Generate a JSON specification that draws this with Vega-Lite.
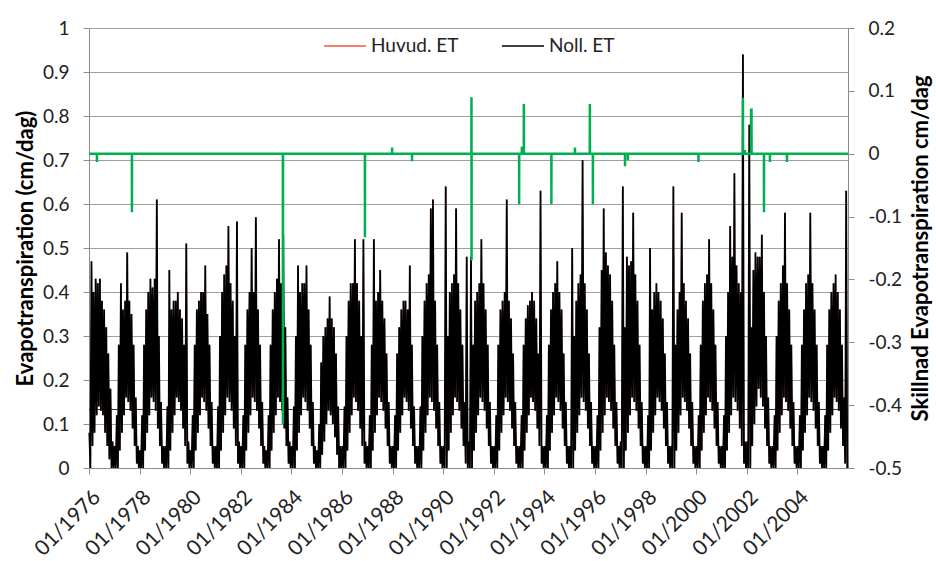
{
"$schema": "https://vega.github.io/schema/vega-lite/v6.json",
"width": 759, "height": 440,
"autosize": {"type": "none"},
"padding": {"left": 89, "top": 28, "right": 88, "bottom": 93},
"background": "white",
"config": {"font": "Lato", "view": {"stroke": null},
  "axis": {"labelFont": "Lato", "labelFontSize": 19, "labelColor": "#222222", "titleFont": "Lato", "titleFontSize": 22, "titleFontWeight": "bold", "titleColor": "#000000", "domainColor": "#8c8c8c", "tickColor": "#8c8c8c", "tickSize": 6, "gridColor": "#a0a0a0", "gridWidth": 1}},
"datasets": {
"ref": [{"v": 0.133}],
"sk": [
{"d":"1976-01-01","s":0},{"d":"1976-04-24","s":0},{"d":"1976-04-25","s":-0.013},{"d":"1976-04-26","s":0},
{"d":"1977-09-11","s":0},{"d":"1977-09-12","s":-0.093},{"d":"1977-09-13","s":0},
{"d":"1983-08-31","s":0},{"d":"1983-09-01","s":-0.43},{"d":"1983-09-02","s":0},
{"d":"1986-11-27","s":0},{"d":"1986-11-28","s":-0.133},{"d":"1986-11-29","s":0},
{"d":"1987-12-24","s":0},{"d":"1987-12-25","s":0.01},{"d":"1987-12-26","s":0},
{"d":"1988-10-07","s":0},{"d":"1988-10-08","s":-0.012},{"d":"1988-10-09","s":0},
{"d":"1991-02-12","s":0},{"d":"1991-02-13","s":0.09},{"d":"1991-02-14","s":-0.17},{"d":"1991-02-15","s":0},
{"d":"1992-12-31","s":0},{"d":"1993-01-01","s":-0.08},{"d":"1993-01-02","s":0},
{"d":"1993-02-08","s":0},{"d":"1993-02-09","s":0.009},{"d":"1993-02-25","s":0.009},{"d":"1993-02-26","s":0},
{"d":"1993-03-09","s":0},{"d":"1993-03-10","s":0.079},{"d":"1993-03-11","s":0},
{"d":"1994-04-11","s":0},{"d":"1994-04-12","s":-0.08},{"d":"1994-04-13","s":0},
{"d":"1995-03-17","s":0},{"d":"1995-03-18","s":0.01},{"d":"1995-03-19","s":0},
{"d":"1995-10-18","s":0},{"d":"1995-10-19","s":0.079},{"d":"1995-10-20","s":0},
{"d":"1995-12-01","s":0},{"d":"1995-12-02","s":-0.08},{"d":"1995-12-03","s":0},
{"d":"1997-03-09","s":0},{"d":"1997-03-10","s":-0.02},{"d":"1997-03-11","s":0},
{"d":"1997-04-19","s":0},{"d":"1997-04-20","s":-0.01},{"d":"1997-04-21","s":0},
{"d":"2000-02-02","s":0},{"d":"2000-02-03","s":-0.013},{"d":"2000-02-04","s":0},
{"d":"2001-11-05","s":0},{"d":"2001-11-06","s":0.089},{"d":"2001-11-07","s":0},
{"d":"2001-12-04","s":0},{"d":"2001-12-05","s":0.006},{"d":"2001-12-06","s":0},
{"d":"2002-03-03","s":0},{"d":"2002-03-04","s":0.07},{"d":"2002-03-10","s":0.07},{"d":"2002-03-11","s":0},
{"d":"2002-09-05","s":0},{"d":"2002-09-06","s":-0.093},{"d":"2002-09-07","s":0},
{"d":"2002-11-30","s":0},{"d":"2002-12-01","s":-0.013},{"d":"2002-12-02","s":0},
{"d":"2003-08-03","s":0},{"d":"2003-08-04","s":-0.013},{"d":"2003-08-05","s":0},
{"d":"2005-12-31","s":0}
],
"et": [
{"d":"1976-01-06","n":0.08},{"d":"1976-01-21","n":0},{"d":"1976-02-06","n":0.47},{"d":"1976-02-21","n":0.05},{"d":"1976-03-06","n":0.40},{"d":"1976-03-21","n":0.08},{"d":"1976-04-06","n":0.43},{"d":"1976-04-21","n":0.12},{"d":"1976-05-06","n":0.42},{"d":"1976-05-21","n":0.14},{"d":"1976-06-06","n":0.43},{"d":"1976-06-21","n":0.13},{"d":"1976-07-06","n":0.38},{"d":"1976-07-21","n":0.12},{"d":"1976-08-06","n":0.36},{"d":"1976-08-21","n":0.08},{"d":"1976-09-06","n":0.32},{"d":"1976-09-21","n":0.05},{"d":"1976-10-06","n":0.26},{"d":"1976-10-21","n":0.02},{"d":"1976-11-06","n":0.18},{"d":"1976-11-21","n":0},{"d":"1976-12-06","n":0.06},{"d":"1976-12-21","n":0},
{"d":"1977-01-06","n":0.05},{"d":"1977-01-21","n":0},{"d":"1977-02-06","n":0.12},{"d":"1977-02-21","n":0},{"d":"1977-03-06","n":0.28},{"d":"1977-03-21","n":0.04},{"d":"1977-04-06","n":0.42},{"d":"1977-04-21","n":0.08},{"d":"1977-05-06","n":0.36},{"d":"1977-05-21","n":0.12},{"d":"1977-06-06","n":0.38},{"d":"1977-06-21","n":0.16},{"d":"1977-07-06","n":0.49},{"d":"1977-07-21","n":0.15},{"d":"1977-08-06","n":0.38},{"d":"1977-08-21","n":0.13},{"d":"1977-09-06","n":0.35},{"d":"1977-09-21","n":0.09},{"d":"1977-10-06","n":0.28},{"d":"1977-10-21","n":0.05},{"d":"1977-11-06","n":0.16},{"d":"1977-11-21","n":0.01},{"d":"1977-12-06","n":0.05},{"d":"1977-12-21","n":0},
{"d":"1978-01-06","n":0.04},{"d":"1978-01-21","n":0},{"d":"1978-02-06","n":0.12},{"d":"1978-02-21","n":0},{"d":"1978-03-06","n":0.28},{"d":"1978-03-21","n":0.04},{"d":"1978-04-06","n":0.36},{"d":"1978-04-21","n":0.08},{"d":"1978-05-06","n":0.40},{"d":"1978-05-21","n":0.12},{"d":"1978-06-06","n":0.43},{"d":"1978-06-21","n":0.16},{"d":"1978-07-06","n":0.41},{"d":"1978-07-21","n":0.15},{"d":"1978-08-06","n":0.43},{"d":"1978-08-21","n":0.13},{"d":"1978-09-06","n":0.61},{"d":"1978-09-21","n":0.09},{"d":"1978-10-06","n":0.30},{"d":"1978-10-21","n":0.05},{"d":"1978-11-06","n":0.15},{"d":"1978-11-21","n":0.01},{"d":"1978-12-06","n":0.05},{"d":"1978-12-21","n":0},
{"d":"1979-01-06","n":0.05},{"d":"1979-01-21","n":0},{"d":"1979-02-06","n":0.14},{"d":"1979-02-21","n":0},{"d":"1979-03-06","n":0.45},{"d":"1979-03-21","n":0.04},{"d":"1979-04-06","n":0.36},{"d":"1979-04-21","n":0.08},{"d":"1979-05-06","n":0.38},{"d":"1979-05-21","n":0.12},{"d":"1979-06-06","n":0.38},{"d":"1979-06-21","n":0.16},{"d":"1979-07-06","n":0.40},{"d":"1979-07-21","n":0.15},{"d":"1979-08-06","n":0.36},{"d":"1979-08-21","n":0.13},{"d":"1979-09-06","n":0.34},{"d":"1979-09-21","n":0.09},{"d":"1979-10-06","n":0.28},{"d":"1979-10-21","n":0.05},{"d":"1979-11-06","n":0.51},{"d":"1979-11-21","n":0.01},{"d":"1979-12-06","n":0.06},{"d":"1979-12-21","n":0},
{"d":"1980-01-06","n":0.04},{"d":"1980-01-21","n":0},{"d":"1980-02-06","n":0.12},{"d":"1980-02-21","n":0},{"d":"1980-03-06","n":0.28},{"d":"1980-03-21","n":0.04},{"d":"1980-04-06","n":0.36},{"d":"1980-04-21","n":0.08},{"d":"1980-05-06","n":0.38},{"d":"1980-05-21","n":0.12},{"d":"1980-06-06","n":0.40},{"d":"1980-06-21","n":0.16},{"d":"1980-07-06","n":0.40},{"d":"1980-07-21","n":0.15},{"d":"1980-08-06","n":0.46},{"d":"1980-08-21","n":0.13},{"d":"1980-09-06","n":0.35},{"d":"1980-09-21","n":0.09},{"d":"1980-10-06","n":0.28},{"d":"1980-10-21","n":0.05},{"d":"1980-11-06","n":0.15},{"d":"1980-11-21","n":0.01},{"d":"1980-12-06","n":0.05},{"d":"1980-12-21","n":0},
{"d":"1981-01-06","n":0.05},{"d":"1981-01-21","n":0},{"d":"1981-02-06","n":0.14},{"d":"1981-02-21","n":0},{"d":"1981-03-06","n":0.30},{"d":"1981-03-21","n":0.04},{"d":"1981-04-06","n":0.40},{"d":"1981-04-21","n":0.08},{"d":"1981-05-06","n":0.44},{"d":"1981-05-21","n":0.12},{"d":"1981-06-06","n":0.46},{"d":"1981-06-21","n":0.16},{"d":"1981-07-06","n":0.55},{"d":"1981-07-21","n":0.15},{"d":"1981-08-06","n":0.42},{"d":"1981-08-21","n":0.13},{"d":"1981-09-06","n":0.38},{"d":"1981-09-21","n":0.09},{"d":"1981-10-06","n":0.30},{"d":"1981-10-21","n":0.05},{"d":"1981-11-06","n":0.56},{"d":"1981-11-21","n":0.01},{"d":"1981-12-06","n":0.06},{"d":"1981-12-21","n":0},
{"d":"1982-01-06","n":0.05},{"d":"1982-01-21","n":0},{"d":"1982-02-06","n":0.12},{"d":"1982-02-21","n":0},{"d":"1982-03-06","n":0.28},{"d":"1982-03-21","n":0.04},{"d":"1982-04-06","n":0.36},{"d":"1982-04-21","n":0.08},{"d":"1982-05-06","n":0.40},{"d":"1982-05-21","n":0.12},{"d":"1982-06-06","n":0.50},{"d":"1982-06-21","n":0.16},{"d":"1982-07-06","n":0.40},{"d":"1982-07-21","n":0.15},{"d":"1982-08-06","n":0.57},{"d":"1982-08-21","n":0.13},{"d":"1982-09-06","n":0.36},{"d":"1982-09-21","n":0.09},{"d":"1982-10-06","n":0.28},{"d":"1982-10-21","n":0.05},{"d":"1982-11-06","n":0.15},{"d":"1982-11-21","n":0.01},{"d":"1982-12-06","n":0.05},{"d":"1982-12-21","n":0},
{"d":"1983-01-06","n":0.04},{"d":"1983-01-21","n":0},{"d":"1983-02-06","n":0.12},{"d":"1983-02-21","n":0},{"d":"1983-03-06","n":0.28},{"d":"1983-03-21","n":0.04},{"d":"1983-04-06","n":0.36},{"d":"1983-04-21","n":0.08},{"d":"1983-05-06","n":0.40},{"d":"1983-05-21","n":0.12},{"d":"1983-06-06","n":0.43},{"d":"1983-06-21","n":0.16},{"d":"1983-07-06","n":0.52},{"d":"1983-07-21","n":0.15},{"d":"1983-08-06","n":0.42},{"d":"1983-08-21","n":0.13},{"d":"1983-09-06","n":0.53},{"d":"1983-09-21","n":0.09},{"d":"1983-10-06","n":0.32},{"d":"1983-10-21","n":0.05},{"d":"1983-11-06","n":0.16},{"d":"1983-11-21","n":0.01},{"d":"1983-12-06","n":0.06},{"d":"1983-12-21","n":0},
{"d":"1984-01-06","n":0.05},{"d":"1984-01-21","n":0},{"d":"1984-02-06","n":0.14},{"d":"1984-02-21","n":0},{"d":"1984-03-06","n":0.30},{"d":"1984-03-21","n":0.04},{"d":"1984-04-06","n":0.46},{"d":"1984-04-21","n":0.08},{"d":"1984-05-06","n":0.40},{"d":"1984-05-21","n":0.12},{"d":"1984-06-06","n":0.42},{"d":"1984-06-21","n":0.16},{"d":"1984-07-06","n":0.42},{"d":"1984-07-21","n":0.15},{"d":"1984-08-06","n":0.46},{"d":"1984-08-21","n":0.13},{"d":"1984-09-06","n":0.36},{"d":"1984-09-21","n":0.09},{"d":"1984-10-06","n":0.28},{"d":"1984-10-21","n":0.05},{"d":"1984-11-06","n":0.15},{"d":"1984-11-21","n":0.01},{"d":"1984-12-06","n":0.05},{"d":"1984-12-21","n":0},
{"d":"1985-01-06","n":0.04},{"d":"1985-01-21","n":0},{"d":"1985-02-06","n":0.10},{"d":"1985-02-21","n":0},{"d":"1985-03-06","n":0.24},{"d":"1985-03-21","n":0.03},{"d":"1985-04-06","n":0.30},{"d":"1985-04-21","n":0.06},{"d":"1985-05-06","n":0.32},{"d":"1985-05-21","n":0.10},{"d":"1985-06-06","n":0.34},{"d":"1985-06-21","n":0.13},{"d":"1985-07-06","n":0.39},{"d":"1985-07-21","n":0.12},{"d":"1985-08-06","n":0.34},{"d":"1985-08-21","n":0.10},{"d":"1985-09-06","n":0.32},{"d":"1985-09-21","n":0.07},{"d":"1985-10-06","n":0.26},{"d":"1985-10-21","n":0.03},{"d":"1985-11-06","n":0.14},{"d":"1985-11-21","n":0},{"d":"1985-12-06","n":0.05},{"d":"1985-12-21","n":0},
{"d":"1986-01-06","n":0.05},{"d":"1986-01-21","n":0},{"d":"1986-02-06","n":0.14},{"d":"1986-02-21","n":0},{"d":"1986-03-06","n":0.30},{"d":"1986-03-21","n":0.04},{"d":"1986-04-06","n":0.38},{"d":"1986-04-21","n":0.08},{"d":"1986-05-06","n":0.42},{"d":"1986-05-21","n":0.12},{"d":"1986-06-06","n":0.42},{"d":"1986-06-21","n":0.16},{"d":"1986-07-06","n":0.52},{"d":"1986-07-21","n":0.15},{"d":"1986-08-06","n":0.42},{"d":"1986-08-21","n":0.13},{"d":"1986-09-06","n":0.38},{"d":"1986-09-21","n":0.09},{"d":"1986-10-06","n":0.30},{"d":"1986-10-21","n":0.05},{"d":"1986-11-06","n":0.52},{"d":"1986-11-21","n":0.01},{"d":"1986-12-06","n":0.06},{"d":"1986-12-21","n":0},
{"d":"1987-01-06","n":0.05},{"d":"1987-01-21","n":0},{"d":"1987-02-06","n":0.12},{"d":"1987-02-21","n":0},{"d":"1987-03-06","n":0.28},{"d":"1987-03-21","n":0.04},{"d":"1987-04-06","n":0.52},{"d":"1987-04-21","n":0.08},{"d":"1987-05-06","n":0.38},{"d":"1987-05-21","n":0.12},{"d":"1987-06-06","n":0.40},{"d":"1987-06-21","n":0.16},{"d":"1987-07-06","n":0.45},{"d":"1987-07-21","n":0.15},{"d":"1987-08-06","n":0.38},{"d":"1987-08-21","n":0.13},{"d":"1987-09-06","n":0.34},{"d":"1987-09-21","n":0.09},{"d":"1987-10-06","n":0.26},{"d":"1987-10-21","n":0.05},{"d":"1987-11-06","n":0.15},{"d":"1987-11-21","n":0.01},{"d":"1987-12-06","n":0.05},{"d":"1987-12-21","n":0},
{"d":"1988-01-06","n":0.05},{"d":"1988-01-21","n":0},{"d":"1988-02-06","n":0.12},{"d":"1988-02-21","n":0},{"d":"1988-03-06","n":0.26},{"d":"1988-03-21","n":0.04},{"d":"1988-04-06","n":0.32},{"d":"1988-04-21","n":0.08},{"d":"1988-05-06","n":0.36},{"d":"1988-05-21","n":0.12},{"d":"1988-06-06","n":0.38},{"d":"1988-06-21","n":0.16},{"d":"1988-07-06","n":0.38},{"d":"1988-07-21","n":0.15},{"d":"1988-08-06","n":0.36},{"d":"1988-08-21","n":0.13},{"d":"1988-09-06","n":0.46},{"d":"1988-09-21","n":0.09},{"d":"1988-10-06","n":0.28},{"d":"1988-10-21","n":0.05},{"d":"1988-11-06","n":0.14},{"d":"1988-11-21","n":0.01},{"d":"1988-12-06","n":0.05},{"d":"1988-12-21","n":0},
{"d":"1989-01-06","n":0.05},{"d":"1989-01-21","n":0},{"d":"1989-02-06","n":0.14},{"d":"1989-02-21","n":0},{"d":"1989-03-06","n":0.30},{"d":"1989-03-21","n":0.04},{"d":"1989-04-06","n":0.38},{"d":"1989-04-21","n":0.08},{"d":"1989-05-06","n":0.42},{"d":"1989-05-21","n":0.12},{"d":"1989-06-06","n":0.44},{"d":"1989-06-21","n":0.16},{"d":"1989-07-06","n":0.59},{"d":"1989-07-21","n":0.15},{"d":"1989-08-06","n":0.61},{"d":"1989-08-21","n":0.13},{"d":"1989-09-06","n":0.38},{"d":"1989-09-21","n":0.09},{"d":"1989-10-06","n":0.28},{"d":"1989-10-21","n":0.05},{"d":"1989-11-06","n":0.15},{"d":"1989-11-21","n":0.01},{"d":"1989-12-06","n":0.05},{"d":"1989-12-21","n":0},
{"d":"1990-01-06","n":0.05},{"d":"1990-01-21","n":0},{"d":"1990-02-06","n":0.64},{"d":"1990-02-21","n":0},{"d":"1990-03-06","n":0.30},{"d":"1990-03-21","n":0.04},{"d":"1990-04-06","n":0.40},{"d":"1990-04-21","n":0.08},{"d":"1990-05-06","n":0.42},{"d":"1990-05-21","n":0.12},{"d":"1990-06-06","n":0.44},{"d":"1990-06-21","n":0.16},{"d":"1990-07-06","n":0.59},{"d":"1990-07-21","n":0.15},{"d":"1990-08-06","n":0.42},{"d":"1990-08-21","n":0.13},{"d":"1990-09-06","n":0.36},{"d":"1990-09-21","n":0.09},{"d":"1990-10-06","n":0.28},{"d":"1990-10-21","n":0.05},{"d":"1990-11-06","n":0.15},{"d":"1990-11-21","n":0.01},{"d":"1990-12-06","n":0.48},{"d":"1990-12-21","n":0},
{"d":"1991-01-06","n":0.06},{"d":"1991-01-21","n":0},{"d":"1991-02-06","n":0.48},{"d":"1991-02-21","n":0},{"d":"1991-03-06","n":0.28},{"d":"1991-03-21","n":0.04},{"d":"1991-04-06","n":0.38},{"d":"1991-04-21","n":0.08},{"d":"1991-05-06","n":0.40},{"d":"1991-05-21","n":0.12},{"d":"1991-06-06","n":0.42},{"d":"1991-06-21","n":0.16},{"d":"1991-07-06","n":0.52},{"d":"1991-07-21","n":0.15},{"d":"1991-08-06","n":0.42},{"d":"1991-08-21","n":0.13},{"d":"1991-09-06","n":0.36},{"d":"1991-09-21","n":0.09},{"d":"1991-10-06","n":0.28},{"d":"1991-10-21","n":0.05},{"d":"1991-11-06","n":0.15},{"d":"1991-11-21","n":0.01},{"d":"1991-12-06","n":0.05},{"d":"1991-12-21","n":0},
{"d":"1992-01-06","n":0.05},{"d":"1992-01-21","n":0},{"d":"1992-02-06","n":0.12},{"d":"1992-02-21","n":0},{"d":"1992-03-06","n":0.28},{"d":"1992-03-21","n":0.04},{"d":"1992-04-06","n":0.36},{"d":"1992-04-21","n":0.08},{"d":"1992-05-06","n":0.38},{"d":"1992-05-21","n":0.12},{"d":"1992-06-06","n":0.40},{"d":"1992-06-21","n":0.16},{"d":"1992-07-06","n":0.61},{"d":"1992-07-21","n":0.15},{"d":"1992-08-06","n":0.38},{"d":"1992-08-21","n":0.13},{"d":"1992-09-06","n":0.34},{"d":"1992-09-21","n":0.09},{"d":"1992-10-06","n":0.26},{"d":"1992-10-21","n":0.05},{"d":"1992-11-06","n":0.15},{"d":"1992-11-21","n":0.01},{"d":"1992-12-06","n":0.05},{"d":"1992-12-21","n":0},
{"d":"1993-01-06","n":0.05},{"d":"1993-01-21","n":0},{"d":"1993-02-06","n":0.12},{"d":"1993-02-21","n":0},{"d":"1993-03-06","n":0.28},{"d":"1993-03-21","n":0.04},{"d":"1993-04-06","n":0.34},{"d":"1993-04-21","n":0.08},{"d":"1993-05-06","n":0.37},{"d":"1993-05-21","n":0.12},{"d":"1993-06-06","n":0.38},{"d":"1993-06-21","n":0.16},{"d":"1993-07-06","n":0.40},{"d":"1993-07-21","n":0.15},{"d":"1993-08-06","n":0.38},{"d":"1993-08-21","n":0.13},{"d":"1993-09-06","n":0.34},{"d":"1993-09-21","n":0.09},{"d":"1993-10-06","n":0.26},{"d":"1993-10-21","n":0.05},{"d":"1993-11-06","n":0.63},{"d":"1993-11-21","n":0.01},{"d":"1993-12-06","n":0.05},{"d":"1993-12-21","n":0},
{"d":"1994-01-06","n":0.05},{"d":"1994-01-21","n":0},{"d":"1994-02-06","n":0.12},{"d":"1994-02-21","n":0},{"d":"1994-03-06","n":0.28},{"d":"1994-03-21","n":0.04},{"d":"1994-04-06","n":0.36},{"d":"1994-04-21","n":0.08},{"d":"1994-05-06","n":0.40},{"d":"1994-05-21","n":0.12},{"d":"1994-06-06","n":0.42},{"d":"1994-06-21","n":0.16},{"d":"1994-07-06","n":0.47},{"d":"1994-07-21","n":0.15},{"d":"1994-08-06","n":0.40},{"d":"1994-08-21","n":0.13},{"d":"1994-09-06","n":0.36},{"d":"1994-09-21","n":0.09},{"d":"1994-10-06","n":0.26},{"d":"1994-10-21","n":0.05},{"d":"1994-11-06","n":0.15},{"d":"1994-11-21","n":0.01},{"d":"1994-12-06","n":0.05},{"d":"1994-12-21","n":0},
{"d":"1995-01-06","n":0.05},{"d":"1995-01-21","n":0},{"d":"1995-02-06","n":0.50},{"d":"1995-02-21","n":0},{"d":"1995-03-06","n":0.30},{"d":"1995-03-21","n":0.04},{"d":"1995-04-06","n":0.38},{"d":"1995-04-21","n":0.08},{"d":"1995-05-06","n":0.42},{"d":"1995-05-21","n":0.12},{"d":"1995-06-06","n":0.44},{"d":"1995-06-21","n":0.16},{"d":"1995-07-06","n":0.70},{"d":"1995-07-21","n":0.15},{"d":"1995-08-06","n":0.42},{"d":"1995-08-21","n":0.13},{"d":"1995-09-06","n":0.36},{"d":"1995-09-21","n":0.09},{"d":"1995-10-06","n":0.26},{"d":"1995-10-21","n":0.05},{"d":"1995-11-06","n":0.15},{"d":"1995-11-21","n":0.01},{"d":"1995-12-06","n":0.05},{"d":"1995-12-21","n":0},
{"d":"1996-01-06","n":0.05},{"d":"1996-01-21","n":0},{"d":"1996-02-06","n":0.12},{"d":"1996-02-21","n":0},{"d":"1996-03-06","n":0.32},{"d":"1996-03-21","n":0.04},{"d":"1996-04-06","n":0.45},{"d":"1996-04-21","n":0.08},{"d":"1996-05-06","n":0.59},{"d":"1996-05-21","n":0.12},{"d":"1996-06-06","n":0.49},{"d":"1996-06-21","n":0.16},{"d":"1996-07-06","n":0.46},{"d":"1996-07-21","n":0.15},{"d":"1996-08-06","n":0.44},{"d":"1996-08-21","n":0.13},{"d":"1996-09-06","n":0.38},{"d":"1996-09-21","n":0.09},{"d":"1996-10-06","n":0.28},{"d":"1996-10-21","n":0.05},{"d":"1996-11-06","n":0.15},{"d":"1996-11-21","n":0.01},{"d":"1996-12-06","n":0.05},{"d":"1996-12-21","n":0},
{"d":"1997-01-06","n":0.06},{"d":"1997-01-21","n":0},{"d":"1997-02-06","n":0.64},{"d":"1997-02-21","n":0},{"d":"1997-03-06","n":0.32},{"d":"1997-03-21","n":0.04},{"d":"1997-04-06","n":0.48},{"d":"1997-04-21","n":0.08},{"d":"1997-05-06","n":0.46},{"d":"1997-05-21","n":0.12},{"d":"1997-06-06","n":0.47},{"d":"1997-06-21","n":0.16},{"d":"1997-07-06","n":0.58},{"d":"1997-07-21","n":0.15},{"d":"1997-08-06","n":0.44},{"d":"1997-08-21","n":0.13},{"d":"1997-09-06","n":0.38},{"d":"1997-09-21","n":0.09},{"d":"1997-10-06","n":0.28},{"d":"1997-10-21","n":0.05},{"d":"1997-11-06","n":0.15},{"d":"1997-11-21","n":0.01},{"d":"1997-12-06","n":0.05},{"d":"1997-12-21","n":0},
{"d":"1998-01-06","n":0.05},{"d":"1998-01-21","n":0},{"d":"1998-02-06","n":0.12},{"d":"1998-02-21","n":0},{"d":"1998-03-06","n":0.50},{"d":"1998-03-21","n":0.04},{"d":"1998-04-06","n":0.36},{"d":"1998-04-21","n":0.08},{"d":"1998-05-06","n":0.40},{"d":"1998-05-21","n":0.12},{"d":"1998-06-06","n":0.42},{"d":"1998-06-21","n":0.16},{"d":"1998-07-06","n":0.40},{"d":"1998-07-21","n":0.15},{"d":"1998-08-06","n":0.38},{"d":"1998-08-21","n":0.13},{"d":"1998-09-06","n":0.34},{"d":"1998-09-21","n":0.09},{"d":"1998-10-06","n":0.26},{"d":"1998-10-21","n":0.05},{"d":"1998-11-06","n":0.15},{"d":"1998-11-21","n":0.01},{"d":"1998-12-06","n":0.05},{"d":"1998-12-21","n":0},
{"d":"1999-01-06","n":0.05},{"d":"1999-01-21","n":0},{"d":"1999-02-06","n":0.64},{"d":"1999-02-21","n":0},{"d":"1999-03-06","n":0.28},{"d":"1999-03-21","n":0.04},{"d":"1999-04-06","n":0.36},{"d":"1999-04-21","n":0.08},{"d":"1999-05-06","n":0.40},{"d":"1999-05-21","n":0.12},{"d":"1999-06-06","n":0.58},{"d":"1999-06-21","n":0.16},{"d":"1999-07-06","n":0.42},{"d":"1999-07-21","n":0.15},{"d":"1999-08-06","n":0.38},{"d":"1999-08-21","n":0.13},{"d":"1999-09-06","n":0.34},{"d":"1999-09-21","n":0.09},{"d":"1999-10-06","n":0.26},{"d":"1999-10-21","n":0.05},{"d":"1999-11-06","n":0.15},{"d":"1999-11-21","n":0.01},{"d":"1999-12-06","n":0.05},{"d":"1999-12-21","n":0},
{"d":"2000-01-06","n":0.05},{"d":"2000-01-21","n":0},{"d":"2000-02-06","n":0.12},{"d":"2000-02-21","n":0},{"d":"2000-03-06","n":0.28},{"d":"2000-03-21","n":0.04},{"d":"2000-04-06","n":0.38},{"d":"2000-04-21","n":0.08},{"d":"2000-05-06","n":0.42},{"d":"2000-05-21","n":0.12},{"d":"2000-06-06","n":0.44},{"d":"2000-06-21","n":0.16},{"d":"2000-07-06","n":0.52},{"d":"2000-07-21","n":0.15},{"d":"2000-08-06","n":0.42},{"d":"2000-08-21","n":0.13},{"d":"2000-09-06","n":0.36},{"d":"2000-09-21","n":0.09},{"d":"2000-10-06","n":0.28},{"d":"2000-10-21","n":0.05},{"d":"2000-11-06","n":0.15},{"d":"2000-11-21","n":0.01},{"d":"2000-12-06","n":0.05},{"d":"2000-12-21","n":0},
{"d":"2001-01-06","n":0.05},{"d":"2001-01-21","n":0},{"d":"2001-02-06","n":0.12},{"d":"2001-02-21","n":0},{"d":"2001-03-06","n":0.30},{"d":"2001-03-21","n":0.04},{"d":"2001-04-06","n":0.40},{"d":"2001-04-21","n":0.08},{"d":"2001-05-06","n":0.55},{"d":"2001-05-21","n":0.12},{"d":"2001-06-06","n":0.48},{"d":"2001-06-21","n":0.16},{"d":"2001-07-06","n":0.67},{"d":"2001-07-21","n":0.15},{"d":"2001-08-06","n":0.46},{"d":"2001-08-21","n":0.13},{"d":"2001-09-06","n":0.42},{"d":"2001-09-21","n":0.09},{"d":"2001-10-06","n":0.40},{"d":"2001-10-21","n":0.05},{"d":"2001-11-06","n":0.94},{"d":"2001-11-21","n":0.01},{"d":"2001-12-06","n":0.06},{"d":"2001-12-21","n":0},
{"d":"2002-01-06","n":0.06},{"d":"2002-01-21","n":0},{"d":"2002-02-06","n":0.78},{"d":"2002-02-21","n":0},{"d":"2002-03-06","n":0.32},{"d":"2002-03-21","n":0.05},{"d":"2002-04-06","n":0.45},{"d":"2002-04-21","n":0.10},{"d":"2002-05-06","n":0.49},{"d":"2002-05-21","n":0.14},{"d":"2002-06-06","n":0.48},{"d":"2002-06-21","n":0.18},{"d":"2002-07-06","n":0.48},{"d":"2002-07-21","n":0.16},{"d":"2002-08-06","n":0.53},{"d":"2002-08-21","n":0.14},{"d":"2002-09-06","n":0.40},{"d":"2002-09-21","n":0.09},{"d":"2002-10-06","n":0.30},{"d":"2002-10-21","n":0.05},{"d":"2002-11-06","n":0.16},{"d":"2002-11-21","n":0.01},{"d":"2002-12-06","n":0.05},{"d":"2002-12-21","n":0},
{"d":"2003-01-06","n":0.05},{"d":"2003-01-21","n":0},{"d":"2003-02-06","n":0.12},{"d":"2003-02-21","n":0},{"d":"2003-03-06","n":0.30},{"d":"2003-03-21","n":0.04},{"d":"2003-04-06","n":0.38},{"d":"2003-04-21","n":0.08},{"d":"2003-05-06","n":0.42},{"d":"2003-05-21","n":0.12},{"d":"2003-06-06","n":0.46},{"d":"2003-06-21","n":0.16},{"d":"2003-07-06","n":0.58},{"d":"2003-07-21","n":0.15},{"d":"2003-08-06","n":0.42},{"d":"2003-08-21","n":0.13},{"d":"2003-09-06","n":0.36},{"d":"2003-09-21","n":0.09},{"d":"2003-10-06","n":0.28},{"d":"2003-10-21","n":0.05},{"d":"2003-11-06","n":0.15},{"d":"2003-11-21","n":0.01},{"d":"2003-12-06","n":0.05},{"d":"2003-12-21","n":0},
{"d":"2004-01-06","n":0.05},{"d":"2004-01-21","n":0},{"d":"2004-02-06","n":0.12},{"d":"2004-02-21","n":0},{"d":"2004-03-06","n":0.28},{"d":"2004-03-21","n":0.04},{"d":"2004-04-06","n":0.36},{"d":"2004-04-21","n":0.08},{"d":"2004-05-06","n":0.42},{"d":"2004-05-21","n":0.12},{"d":"2004-06-06","n":0.44},{"d":"2004-06-21","n":0.16},{"d":"2004-07-06","n":0.58},{"d":"2004-07-21","n":0.15},{"d":"2004-08-06","n":0.42},{"d":"2004-08-21","n":0.13},{"d":"2004-09-06","n":0.36},{"d":"2004-09-21","n":0.09},{"d":"2004-10-06","n":0.28},{"d":"2004-10-21","n":0.05},{"d":"2004-11-06","n":0.15},{"d":"2004-11-21","n":0.01},{"d":"2004-12-06","n":0.05},{"d":"2004-12-21","n":0},
{"d":"2005-01-06","n":0.05},{"d":"2005-01-21","n":0},{"d":"2005-02-06","n":0.12},{"d":"2005-02-21","n":0},{"d":"2005-03-06","n":0.28},{"d":"2005-03-21","n":0.04},{"d":"2005-04-06","n":0.36},{"d":"2005-04-21","n":0.08},{"d":"2005-05-06","n":0.40},{"d":"2005-05-21","n":0.12},{"d":"2005-06-06","n":0.42},{"d":"2005-06-21","n":0.16},{"d":"2005-07-06","n":0.44},{"d":"2005-07-21","n":0.15},{"d":"2005-08-06","n":0.40},{"d":"2005-08-21","n":0.13},{"d":"2005-09-06","n":0.36},{"d":"2005-09-21","n":0.09},{"d":"2005-10-06","n":0.28},{"d":"2005-10-21","n":0.05},{"d":"2005-11-06","n":0.16},{"d":"2005-11-21","n":0.01},{"d":"2005-12-06","n":0.63},{"d":"2005-12-21","n":0}
]
},
"layer": [
  {
    "layer": [
      {"data": {"name": "ref"}, "mark": {"type": "rule", "color": "#303030", "strokeWidth": 1},
       "encoding": {"y": {"field": "v", "type": "quantitative", "scale": {"domain": [0, 1]}}}},
      {"data": {"name": "et"}, "mark": {"type": "line", "strokeWidth": 1},
       "encoding": {
         "x": {"field": "d", "type": "temporal",
               "scale": {"domain": [{"year": 1976, "month": 1, "date": 1}, {"year": 2006, "month": 1, "date": 1}]},
               "axis": {"title": null, "format": "%m/%Y", "labelAngle": -45, "labelPadding": 12, "labelFontSize": 21, "labelOverlap": false, "grid": false,
                        "values": [{"year": 1976}, {"year": 1978}, {"year": 1980}, {"year": 1982}, {"year": 1984}, {"year": 1986}, {"year": 1988}, {"year": 1990}, {"year": 1992}, {"year": 1994}, {"year": 1996}, {"year": 1998}, {"year": 2000}, {"year": 2002}, {"year": 2004}]}},
         "y": {"field": "n", "type": "quantitative", "scale": {"domain": [0, 1]},
               "axis": {"title": "Evapotranspiration (cm/dag)", "grid": true, "format": ".1~f", "labelPadding": 14, "titlePadding": 5,
                        "values": [0, 0.1, 0.2, 0.3, 0.4, 0.5, 0.6, 0.7, 0.8, 0.9, 1]}},
         "color": {"datum": "Huvud. ET", "type": "nominal",
                   "scale": {"domain": ["Huvud. ET", "Noll. ET"], "range": ["#F4593A", "#000000"]},
                   "legend": {"title": null, "orient": "none", "legendX": 234, "legendY": -4, "direction": "horizontal",
                              "symbolType": "stroke", "symbolSize": 1764, "symbolStrokeWidth": 1.5, "labelFontSize": 19, "labelFont": "Lato",
                              "labelColor": "#222222", "columnPadding": 40, "labelOffset": 4}}
       }},
      {"data": {"name": "et"}, "mark": {"type": "line", "strokeWidth": 1.8},
       "encoding": {
         "x": {"field": "d", "type": "temporal"},
         "y": {"field": "n", "type": "quantitative"},
         "color": {"datum": "Noll. ET", "type": "nominal"}
       }}
    ]
  },
  {"data": {"name": "sk"}, "mark": {"type": "line", "color": "#00B050", "strokeWidth": 2.5},
   "encoding": {
     "x": {"field": "d", "type": "temporal"},
     "y": {"field": "s", "type": "quantitative", "scale": {"domain": [-0.5, 0.2]},
           "axis": {"orient": "right", "title": "Skillnad Evapotranspiration cm/dag", "titleAngle": 270, "grid": false,
                    "labelExpr": "toString(datum.value)", "labelPadding": 14, "titlePadding": 31,
                    "values": [-0.5, -0.4, -0.3, -0.2, -0.1, 0, 0.1, 0.2]}}
   }}
],
"resolve": {"scale": {"y": "independent"}}
}
